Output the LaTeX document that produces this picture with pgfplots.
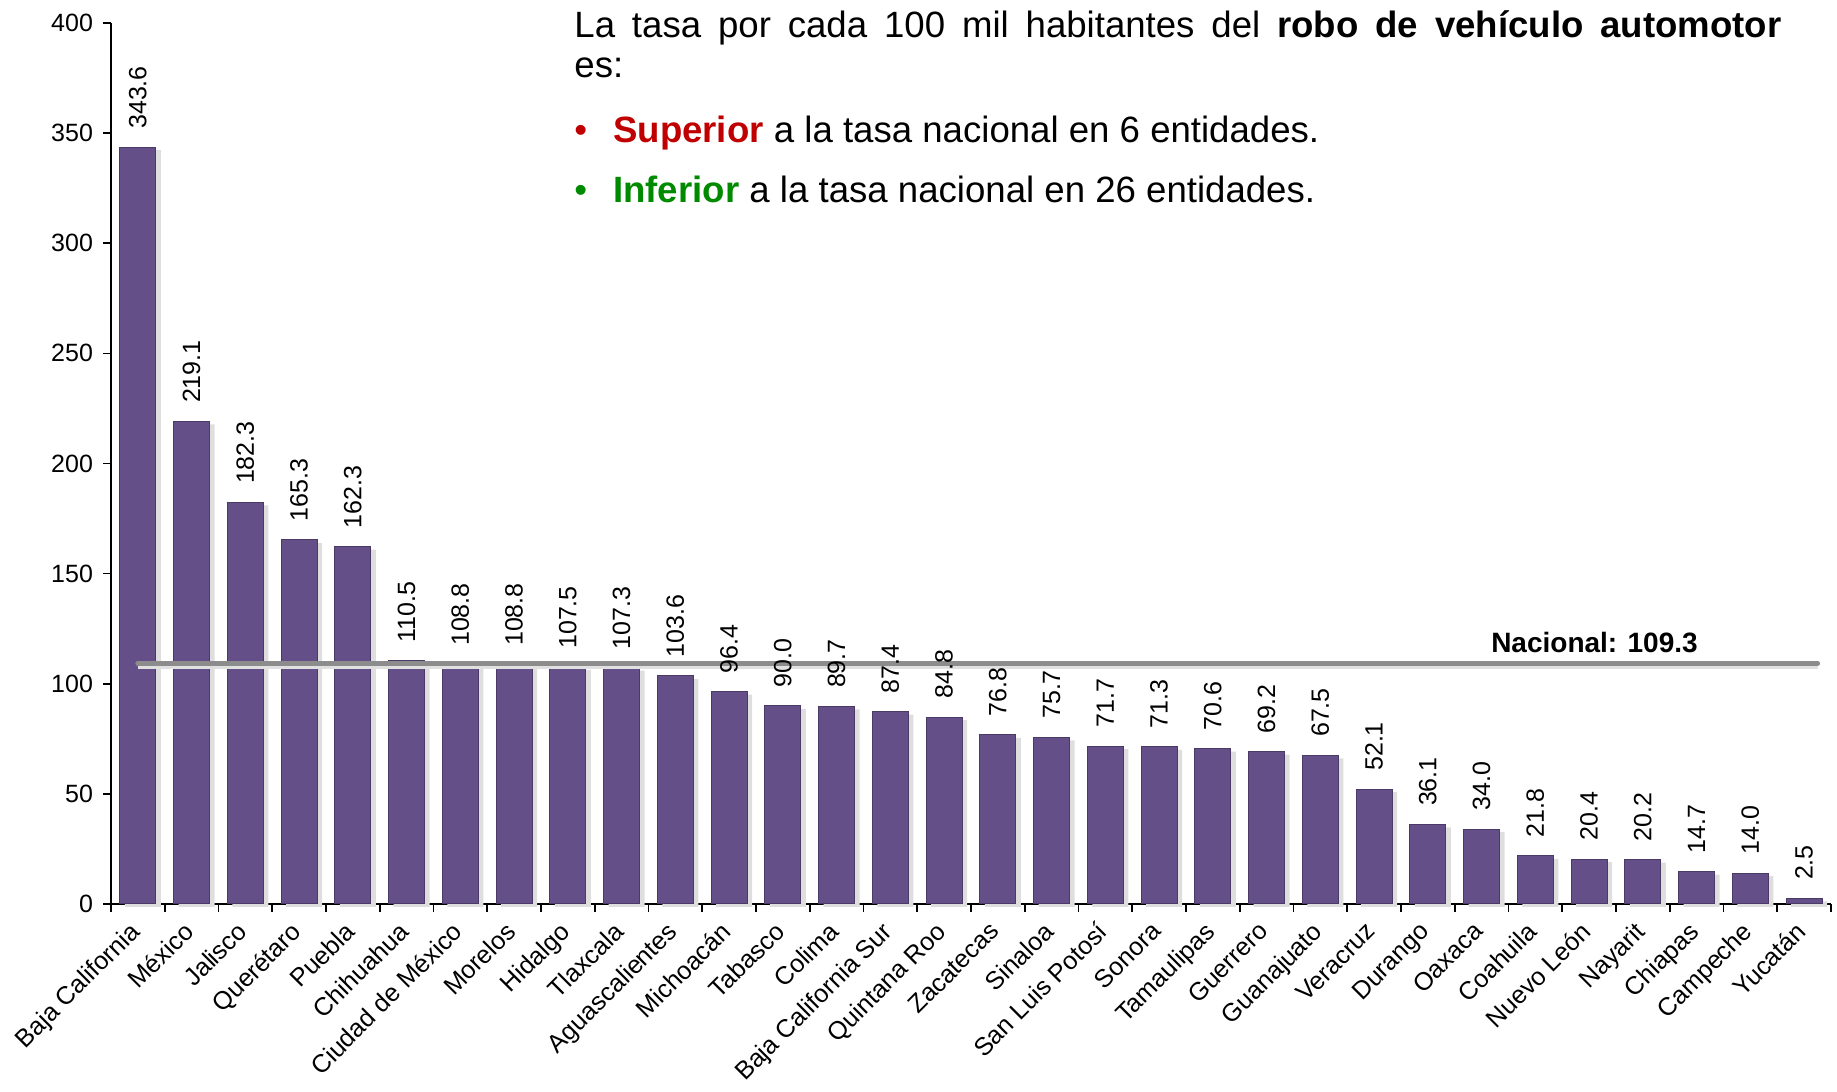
\documentclass[border=0pt]{standalone}
\usepackage{fontspec}
\setmainfont{Liberation Sans}
\usepackage{pgfplots}
\pgfplotsset{compat=1.18}
\definecolor{barfill}{HTML}{654F89}
\definecolor{baredge}{HTML}{4A3A66}
\definecolor{supred}{HTML}{C00000}
\definecolor{infgreen}{HTML}{008A00}
\definecolor{natgray}{HTML}{8C8C8C}
\begin{document}
\begin{tikzpicture}
\useasboundingbox (-55.5pt,-94pt) rectangle (863pt,452pt);
\begin{axis}[
  at={(0,0)}, anchor=south west,
  scale only axis, width=860pt, height=440.5pt,
  xmin=-0.5, xmax=31.5, ymin=0, ymax=400,
  axis x line*=bottom, axis y line*=left,
  axis line style={line width=0.8pt, black},
  ytick={0,50,...,400},
  xtick={0,...,31},
  xticklabels={Baja California,México,Jalisco,Querétaro,Puebla,Chihuahua,Ciudad de México,Morelos,Hidalgo,Tlaxcala,Aguascalientes,Michoacán,Tabasco,Colima,Baja California Sur,Quintana Roo,Zacatecas,Sinaloa,San Luis Potosí,Sonora,Tamaulipas,Guerrero,Guanajuato,Veracruz,Durango,Oaxaca,Coahuila,Nuevo León,Nayarit,Chiapas,Campeche,Yucatán},
  minor xtick={-0.5,0.5,...,31.5},
  tick align=outside,
  major tick length=4pt, minor tick length=4pt,
  tick style={black, line width=0.8pt},
  major x tick style={draw=none},
  minor x tick style={black, line width=0.8pt},
  yticklabel style={font=\fontsize{12.5}{14}\selectfont, xshift=-1.5pt},
  xticklabel style={font=\fontsize{12.6}{15}\selectfont, xshift=-4.8pt, yshift=-2.5pt, rotate=45, anchor=north east, inner sep=1pt},
  /pgf/number format/assume math mode=true,
  clip=false,
]
\addplot[ybar, bar width=18pt, fill=barfill, draw=baredge, line width=0.5pt,
  preaction={fill=black!13, draw=none, transform canvas={xshift=2.5pt, yshift=-1.5pt}},
  nodes near coords={\pgfmathprintnumber[fixed,fixed zerofill,precision=1,assume math mode=true]{\pgfplotspointmeta}},
  every node near coord/.append style={rotate=90, anchor=west, font=\fontsize{12.5}{14}\selectfont, inner xsep=9pt, inner ysep=1pt, black}]
coordinates {
(0,343.6) (1,219.1) (2,182.3) (3,165.3) (4,162.3) (5,110.5) (6,108.8) (7,108.8)
(8,107.5) (9,107.3) (10,103.6) (11,96.4) (12,90.0) (13,89.7) (14,87.4) (15,84.8)
(16,76.8) (17,75.7) (18,71.7) (19,71.3) (20,70.6) (21,69.2) (22,67.5) (23,52.1)
(24,36.1) (25,34.0) (26,21.8) (27,20.4) (28,20.2) (29,14.7) (30,14.0) (31,2.5)
};
\addplot[black!12, line width=2.5pt, forget plot, yshift=-1.5pt] coordinates {(0,109.3) (31.25,109.3)};
\addplot[natgray, line width=2.5pt, line cap=round] coordinates {(0,109.3) (31.25,109.3)};
\node[anchor=base, inner sep=0, font=\bfseries\fontsize{14}{16}\selectfont, yshift=5.5pt] at (axis cs:27.1,109.3) {Nacional: 109.3};
\node[anchor=base west, inner sep=0, text width=603.5pt, align=justify, font=\fontsize{18.3}{20}\selectfont] at (rel axis cs:0.2692,0.983)
  {La tasa por cada 100 mil habitantes del \textbf{robo de vehículo automotor}\linebreak es:};
\node[anchor=base west, inner sep=0, font=\fontsize{18.3}{20}\selectfont] at (rel axis cs:0.2692,0.8649)
  {\textcolor{supred}{•}\hspace{13pt}\textcolor{supred}{\textbf{Superior}} a la tasa nacional en 6 entidades.};
\node[anchor=base west, inner sep=0, font=\fontsize{18.3}{20}\selectfont] at (rel axis cs:0.2692,0.7968)
  {\textcolor{infgreen}{•}\hspace{13pt}\textcolor{infgreen}{\textbf{Inferior}} a la tasa nacional en 26 entidades.};
\end{axis}
\end{tikzpicture}
\end{document}
